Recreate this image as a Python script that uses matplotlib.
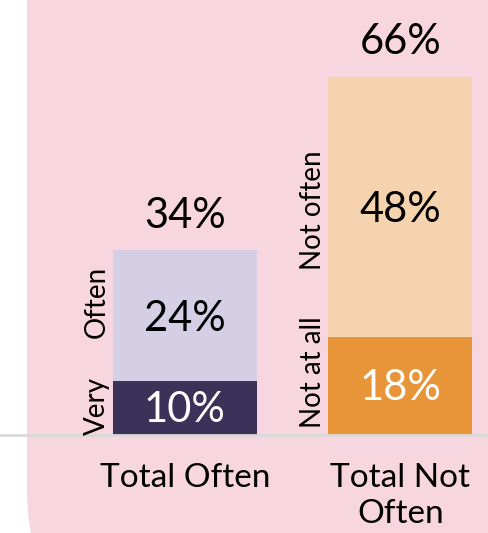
import matplotlib
matplotlib.use("Agg")
import matplotlib.pyplot as plt
from matplotlib.patches import FancyBboxPatch

plt.rcParams['font.family'] = ['Lato', 'DejaVu Sans']

# data
categories = ['Total Often', 'Total Not\nOften']
bottom_vals = [10, 18]
top_vals = [24, 48]
totals = [34, 66]
bottom_names = ['Very', 'Not at all']
top_names = ['Often', 'Not often']
bottom_colors = ['#3c3159', '#e8953a']
top_colors = ['#d5cfe6', '#f5d3af']

fig = plt.figure(figsize=(4.88, 5.33), dpi=100)
fig.patch.set_facecolor('white')

# pink panel with rounded bottom-left corner
panel = FancyBboxPatch((0.27, -1.0), 6.0, 8.0,
                       boxstyle='round,pad=0,rounding_size=1.43',
                       transform=fig.dpi_scale_trans,
                       facecolor='#f8d6e0', edgecolor='none', zorder=-5)
fig.patches.append(panel)

ax = fig.add_axes([0, 98 / 533, 1, 435 / 533])
ax.set_facecolor('none')
ax.set_zorder(1)

x = [0, 1]
w = 0.668
ax.bar(x, bottom_vals, width=w, color=bottom_colors, zorder=2)
ax.bar(x, top_vals, width=w, bottom=bottom_vals, color=top_colors, zorder=2)

ax.set_xlim(-0.858, 1.406)
ax.set_ylim(0, 80.1)

# values inside segments and totals on top
for i in range(2):
    ax.text(x[i], bottom_vals[i] / 2 - 0.4, f'{bottom_vals[i]}%', ha='center', va='center',
            color='white', fontsize=30)
    ax.text(x[i], bottom_vals[i] + top_vals[i] / 2 - 0.6, f'{top_vals[i]}%', ha='center',
            va='center', color='black', fontsize=30)
    ax.text(x[i], totals[i] + 6.3, f'{totals[i]}%', ha='center', va='center',
            color='black', fontsize=30)

# side labels
side_x = [-0.409, 0.594]
ax.text(side_x[0], 5.3, bottom_names[0], rotation=90, ha='center', va='center', fontsize=20)
ax.text(side_x[0], 24.5, top_names[0], rotation=90, ha='center', va='center', fontsize=20)
ax.text(side_x[1], 11.6, bottom_names[1], rotation=90, ha='center', va='center', fontsize=20)
ax.text(side_x[1], 41.4, top_names[1], rotation=90, ha='center', va='center', fontsize=20)

ax.set_xticks(x)
ax.set_xticklabels(categories, fontsize=24, linespacing=1.25)
ax.tick_params(axis='x', length=0, pad=20)
ax.set_yticks([])
for s in ['top', 'left', 'right']:
    ax.spines[s].set_visible(False)
ax.spines['bottom'].set_color('#d9d9d9')
ax.spines['bottom'].set_linewidth(2)

fig.savefig('out.png', dpi=100)
